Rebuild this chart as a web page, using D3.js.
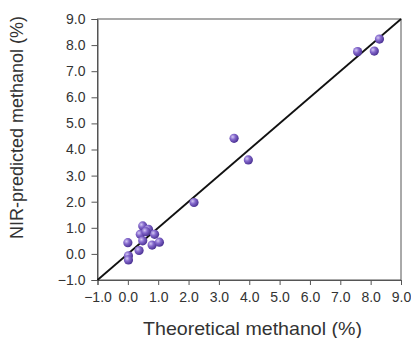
<!DOCTYPE html>
<html>
<head>
<meta charset="utf-8">
<script src="https://cdn.jsdelivr.net/npm/d3@7"></script>
<style>
  body { margin: 0; background: #fff; }
  .axis text { font-family: "Liberation Sans", Arial, sans-serif; font-size: 14px; fill: #333; }
  .axis path, .axis line { stroke: #555; }
</style>
</head>
<body>
<div class="chart"></div>
<script>
const theoretical = [8.29, 7.57, 8.12, 3.50, 3.97, 2.18, 0.49, 0.68, 0.41, 0.88, 0.49, 0.80, 1.04, 0.00, 0.37, 0.02, 0.02, 0.60];
const predicted   = [8.23, 7.75, 7.77, 4.43, 3.60, 1.97, 1.07, 0.94, 0.75, 0.75, 0.50, 0.34, 0.45, 0.43, 0.13, -0.07, -0.23, 0.85];
const ticks = [-1, 0, 1, 2, 3, 4, 5, 6, 7, 8, 9];

const margin = ({top: 19, right: 10, bottom: 58, left: 97.5});
const width = 411 - margin.left - margin.right,
    height = 338 - margin.top - margin.bottom;

const root = d3.select('.chart').append('svg')
    .attr('width', 411)
    .attr('height', 338);

const defs = root.append('defs');
const grad = defs.append('radialGradient')
    .attr('id', 'ball')
    .attr('cx', '35%').attr('cy', '35%').attr('r', '65%');
grad.append('stop').attr('offset', '0%').attr('stop-color', '#d4c8f4');
grad.append('stop').attr('offset', '45%').attr('stop-color', '#8468cc');
grad.append('stop').attr('offset', '100%').attr('stop-color', '#4e3596');

const svg = root.append('g')
    .attr('transform', `translate(${margin.left},${margin.top})`);

const xScale = d3.scaleLinear().domain([-1, 9]).range([0, width]);
const yScale = d3.scaleLinear().domain([-1, 9]).range([height, 0]);

// frame
svg.append('rect')
    .attr('width', width)
    .attr('height', height)
    .attr('fill', 'none')
    .attr('stroke', '#555')
    .attr('stroke-width', 1);

svg.append('g')
    .attr('class', 'axis x-axis')
    .attr('transform', `translate(0,${height})`)
    .call(d3.axisBottom(xScale).tickValues(ticks).tickFormat(d3.format('.1f')).tickSizeOuter(0).tickSize(5).tickPadding(7));

svg.append('g')
    .attr('class', 'axis y-axis')
    .call(d3.axisLeft(yScale).tickValues(ticks).tickFormat(d3.format('.1f')).tickSizeOuter(0).tickSize(6).tickPadding(6));

// 1:1 line
svg.append('line')
    .attr('x1', xScale(-1)).attr('y1', yScale(-1))
    .attr('x2', xScale(9)).attr('y2', yScale(9))
    .attr('stroke', '#111')
    .attr('stroke-width', 1.8);

svg.selectAll('circle')
    .data(theoretical.map((d, i) => ({x: d, y: predicted[i]})))
    .enter()
    .append('circle')
    .attr('cx', d => xScale(d.x))
    .attr('cy', d => yScale(d.y))
    .attr('r', 4.6)
    .attr('fill', 'url(#ball)');

svg.append('text')
    .text('Theoretical methanol (%)')
    .attr('x', 155)
    .attr('y', height + 55)
    .attr('text-anchor', 'middle')
    .attr('textLength', 219)
    .attr('lengthAdjust', 'spacingAndGlyphs')
    .attr('font-family', '"Liberation Sans", Arial, sans-serif')
    .attr('font-size', 18.5)
    .attr('fill', '#333');

svg.append('text')
    .text('NIR-predicted methanol (%)')
    .attr('transform', `translate(${-74.5},108.5) rotate(-90)`)
    .attr('text-anchor', 'middle')
    .attr('font-family', '"Liberation Sans", Arial, sans-serif')
    .attr('font-size', 18)
    .attr('fill', '#333');
</script>
</body>
</html>
